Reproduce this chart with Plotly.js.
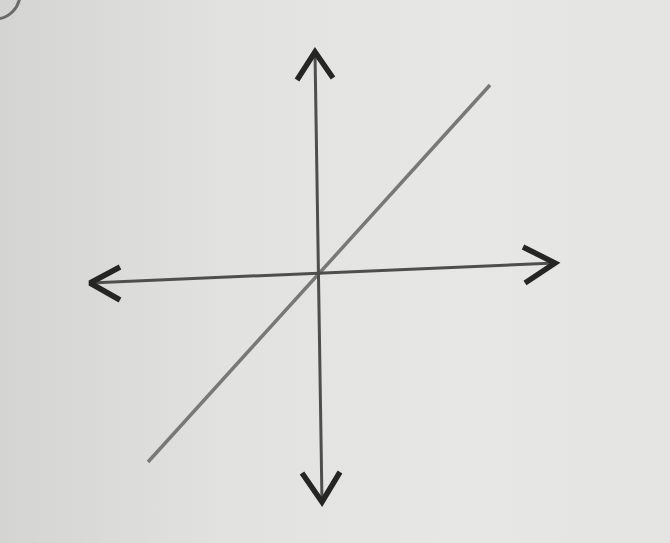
<!DOCTYPE html>
<html>
<head>
<meta charset="utf-8">
<script src="https://cdn.plot.ly/plotly-3.0.1.min.js"></script>
<style>
html,body{margin:0;padding:0;}
body{width:670px;height:543px;background:linear-gradient(to right,#d4d4d2 0%,#e2e2e0 35%,#e7e7e5 70%,#e4e4e2 100%);}
#chart{width:670px;height:543px;}
</style>
</head>
<body>
<div id="chart"></div>
<script>
// x-axis (horizontal) endpoints
var xAxisX = [-5.7, 5.925];
var xAxisY = [-0.2, 0.3];
// y-axis (vertical) endpoints
var yAxisX = [-0.075, 0.1];
var yAxisY = [5.575, -5.675];
// the line y = x
var lineX = [-4.25, 4.3];
var lineY = [-4.675, 4.75];
// arrowheads (arm, tip, arm)
var arrowTopX = [-0.525, -0.075, 0.375];
var arrowTopY = [4.875, 5.575, 4.925];
var arrowLeftX = [-4.95, -5.7, -4.95];
var arrowLeftY = [0.2, -0.2, -0.625];
var arrowRightX = [5.125, 5.925, 5.175];
var arrowRightY = [0.7, 0.3, -0.2];
var arrowBottomX = [-0.4, 0.1, 0.55];
var arrowBottomY = [-4.95, -5.675, -4.925];

function seg(x, y, color, width) {
  return {x: x, y: y, type: 'scatter', mode: 'lines', hoverinfo: 'skip',
          line: {color: color, width: width, shape: 'linear'}, showlegend: false};
}

var traces = [
  seg(lineX, lineY, '#787878', 3.5),
  seg(xAxisX, xAxisY, '#4e4e4e', 3),
  seg(yAxisX, yAxisY, '#4e4e4e', 3),
  seg(arrowTopX, arrowTopY, '#252525', 5.5),
  seg(arrowLeftX, arrowLeftY, '#252525', 5.5),
  seg(arrowRightX, arrowRightY, '#252525', 5.5),
  seg(arrowBottomX, arrowBottomY, '#252525', 5.5)
];

var layout = {
  width: 670, height: 543,
  margin: {l: 0, r: 0, t: 0, b: 0, pad: 0},
  paper_bgcolor: 'rgba(0,0,0,0)',
  plot_bgcolor: 'rgba(0,0,0,0)',
  xaxis: {range: [-7.95, 8.8], visible: false, fixedrange: true},
  yaxis: {range: [-6.7, 6.875], visible: false, fixedrange: true},
  shapes: [{
    type: 'circle', xref: 'paper', yref: 'paper',
    x0: -0.045, x1: 0.03, y0: 0.965, y1: 1.06,
    line: {color: '#6a6a6a', width: 3}
  }]
};

Plotly.newPlot('chart', traces, layout, {staticPlot: true, displayModeBar: false});
</script>
</body>
</html>
